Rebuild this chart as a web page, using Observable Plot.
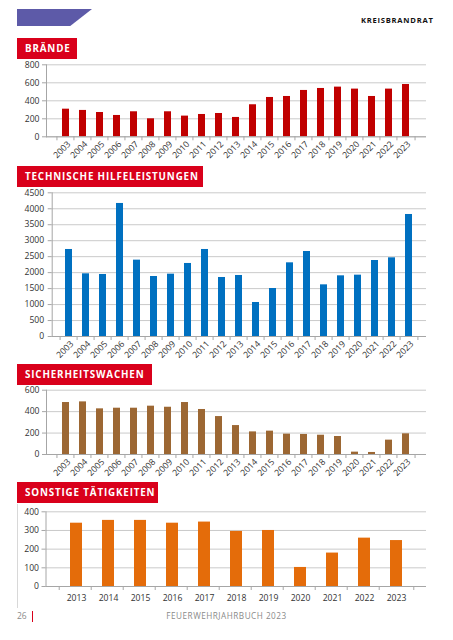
<!DOCTYPE html>
<html><head><meta charset="utf-8">
<script src="https://cdn.jsdelivr.net/npm/d3@7"></script>
<script src="https://cdn.jsdelivr.net/npm/@observablehq/plot@0.6"></script>
<style>
html,body{margin:0;padding:0;background:#fff;}
#page{position:relative;width:453px;height:640px;overflow:hidden;font-family:"Open Sans",sans-serif;}
.abs{position:absolute;}
.title{position:absolute;left:17px;height:21px;background:#d9001b;color:#fff;font-weight:700;font-size:9.8px;letter-spacing:0.85px;line-height:21px;padding-left:8px;box-sizing:border-box;white-space:nowrap;}
.chart{position:absolute;left:0;}
.chart svg{overflow:visible;}
</style></head>
<body><div id="page">
<div class="abs" style="left:17px;top:9px;width:75px;height:17px;background:#5d5aa8;clip-path:polygon(0 0,100% 0,71% 100%,0 100%);"></div>
<div class="abs" style="left:361px;top:15px;font-weight:700;font-size:7.6px;letter-spacing:0.75px;color:#111;">KREISBRANDRAT</div>
<div class="title" style="top:38px;width:60px;">BRÄNDE</div>
<div class="title" style="top:166px;width:186px;">TECHNISCHE HILFELEISTUNGEN</div>
<div class="title" style="top:364px;width:135px;">SICHERHEITSWACHEN</div>
<div class="title" style="top:482px;width:141px;">SONSTIGE TÄTIGKEITEN</div>
<div class="abs" style="left:17px;top:504px;width:1px;height:104px;background:#d8d8d8;"></div>
<div class="abs" style="left:17px;top:610px;font-size:8.5px;color:#8a8a8a;">26</div>
<div class="abs" style="left:32px;top:611px;width:1.3px;height:11px;background:#d9001b;"></div>
<div class="abs" style="left:0;width:453px;text-align:center;top:610px;font-size:8.2px;letter-spacing:0.5px;color:#8a8a8a;">FEUERWEHRJAHRBUCH 2023</div>
<div id="c1" class="chart" style="top:58px"></div>
<div id="c2" class="chart" style="top:187px"></div>
<div id="c3" class="chart" style="top:385px"></div>
<div id="c4" class="chart" style="top:505px"></div>
</div>
<script>
const yearsLong = ["2003","2004","2005","2006","2007","2008","2009","2010","2011","2012","2013","2014","2015","2016","2017","2018","2019","2020","2021","2022","2023"];
const yearsShort = ["2013","2014","2015","2016","2017","2018","2019","2020","2021","2022","2023"];
const braende = [307,293,270,237,278,200,278,230,248,259,215,356,437,448,515,537,552,530,448,530,581];
const technische = [2725,1963,1942,4166,2391,1879,1952,2287,2725,1848,1911,1065,1503,2307,2662,1618,1900,1921,2380,2464,3821];
const sicherheit = [485,491,426,432,432,451,441,485,420,354,270,211,218,190,187,180,168,22,19,134,193];
const sonstige = [339,354,354,339,345,295,300,102,179,259,246];
const yTicks1 = [0,200,400,600,800];
const yTicks2 = [0,500,1000,1500,2000,2500,3000,3500,4000,4500];
const yTicks3 = [0,200,400,600];
const yTicks4 = [0,100,200,300,400];

const FONT = "Open Sans, sans-serif";
function chart(el, years, values, ticks, color, o){
  const data = years.map((y,i)=>({year:y, value:values[i]}));
  const W = 453;
  const step = (W - o.left - o.right)/years.length;
  const p = Plot.plot({
    width: W, height: o.height,
    marginLeft: o.left, marginRight: o.right, marginTop: o.top, marginBottom: o.bottom,
    style: {fontFamily: FONT, fontSize: "8.6px", color: "#333", background: "transparent", overflow: "visible"},
    x: {domain: years, padding: o.padding, align: 0.5, axis: null, label: null},
    y: {domain: [ticks[0], ticks[ticks.length-1]], axis: null, label: null},
    marks: [
      Plot.gridY(ticks, {stroke: "#bdbdbd", strokeOpacity: 1, strokeWidth: 0.8}),
      Plot.barY(data, {x: "year", y: "value", fill: color}),
      Plot.ruleY([0], {stroke: "#a6a6a6", strokeWidth: 1}),
      Plot.frame({anchor: "left", stroke: "#a6a6a6", strokeWidth: 1}),
      Plot.axisY(ticks, {tickSize: 4, tickPadding: o.tickPad, stroke: "#a6a6a6", fill: "#333", label: null, tickFormat: d => String(d)}),
      Plot.axisX(years, {tickSize: 4, dx: -step/2, stroke: "#a6a6a6", label: null, tickFormat: () => ""}),
      Plot.axisX([years[years.length-1]], {tickSize: 4, dx: step/2, stroke: "#a6a6a6", label: null, tickFormat: () => ""}),
      o.rotate
        ? Plot.text(years, {x: d => d, frameAnchor: "bottom", rotate: -45, textAnchor: "end", lineAnchor: "middle", dx: 3, dy: 6, fill: "#333", fontSize: 8.7})
        : Plot.axisX(years, {tickSize: 0, tickPadding: 8, fill: "#333", label: null})
    ]
  });
  document.getElementById(el).appendChild(p);
}
chart("c1", yearsLong, braende, yTicks1, "#c00000", {height:107, left:46, right:27, top:6.3, bottom:28.7, padding:0.57, rotate:true, tickPad:3});
chart("c2", yearsLong, technische, yTicks2, "#0070c0", {height:173, left:51.7, right:27, top:5.3, bottom:24, padding:0.57, rotate:true, tickPad:4});
chart("c3", yearsLong, sicherheit, yTicks3, "#9c6733", {height:95, left:46, right:27, top:4.7, bottom:26, padding:0.57, rotate:true, tickPad:3});
chart("c4", yearsShort, sonstige, yTicks4, "#e46c0a", {height:100, left:45.5, right:27, top:6.3, bottom:19, padding:0.62, rotate:false, tickPad:3});
</script>
</body></html>
